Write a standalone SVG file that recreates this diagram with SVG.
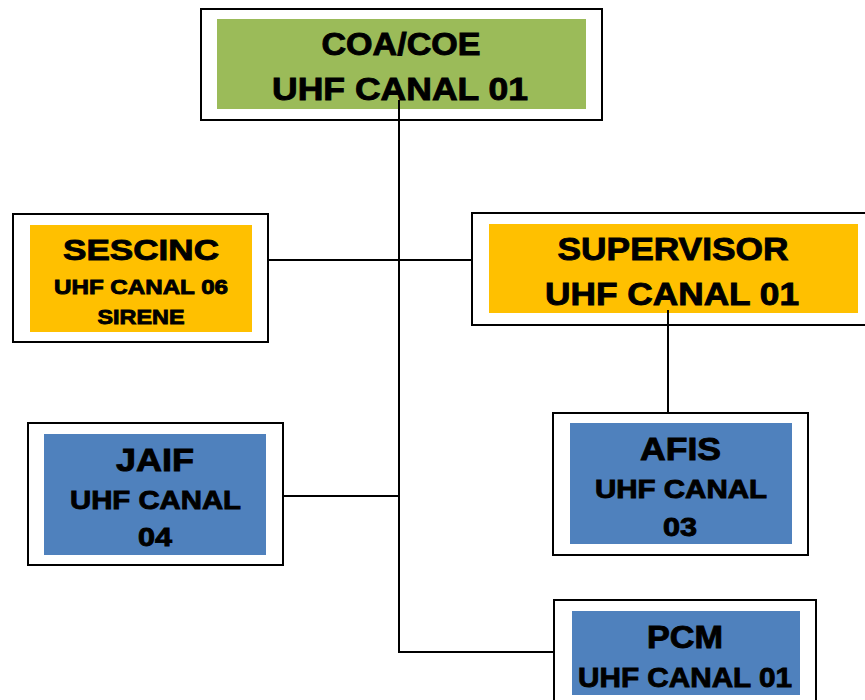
<svg xmlns="http://www.w3.org/2000/svg" width="865" height="700" viewBox="0 0 865 700">
<style>
.frame{fill:#fff;stroke:#000;stroke-width:2}
.green{fill:#9BBB59}
.orange{fill:#FFC000}
.blue{fill:#4F81BD}
text{font-family:"Liberation Sans",Arial,sans-serif;font-weight:bold;fill:#000;stroke:#000;stroke-width:0.9;text-anchor:middle}
.conn line{stroke:#000;stroke-width:2}
</style>
<rect width="865" height="700" fill="#fff"/>
<g id="coa">
<rect class="frame" x="201" y="9" width="401" height="111"/>
<rect class="green" x="217" y="19" width="369" height="90"/>
<text x="401" y="55" font-size="31" textLength="159" lengthAdjust="spacingAndGlyphs">COA/COE</text>
<text x="400" y="100" font-size="32" textLength="256" lengthAdjust="spacingAndGlyphs">UHF CANAL 01</text>
</g>
<g id="sescinc">
<rect class="frame" x="13" y="214" width="255" height="128"/>
<rect class="orange" x="30" y="225" width="222" height="107"/>
<text x="141" y="260" font-size="30" textLength="156" lengthAdjust="spacingAndGlyphs">SESCINC</text>
<text x="141" y="294" font-size="21" textLength="174" lengthAdjust="spacingAndGlyphs" stroke-width="0.6">UHF CANAL 06</text>
<text x="141" y="324" font-size="21" textLength="87" lengthAdjust="spacingAndGlyphs" stroke-width="0.6">SIRENE</text>
</g>
<g id="supervisor">
<rect class="frame" x="472" y="213" width="400" height="112"/>
<rect class="orange" x="489" y="224" width="369" height="89"/>
<text x="673" y="260" font-size="32" textLength="231" lengthAdjust="spacingAndGlyphs">SUPERVISOR</text>
<text x="672" y="305" font-size="32" textLength="254" lengthAdjust="spacingAndGlyphs">UHF CANAL 01</text>
</g>
<g id="jaif">
<rect class="frame" x="28" y="423" width="255" height="142"/>
<rect class="blue" x="44" y="434" width="222" height="121"/>
<text x="155" y="471" font-size="32" textLength="78" lengthAdjust="spacingAndGlyphs">JAIF</text>
<text x="155.5" y="509" font-size="26" textLength="171" lengthAdjust="spacingAndGlyphs">UHF CANAL</text>
<text x="155" y="546" font-size="26" textLength="34" lengthAdjust="spacingAndGlyphs">04</text>
</g>
<g id="afis">
<rect class="frame" x="553" y="413" width="255" height="142"/>
<rect class="blue" x="570" y="423" width="222" height="121"/>
<text x="680.5" y="460" font-size="32" textLength="81" lengthAdjust="spacingAndGlyphs">AFIS</text>
<text x="681" y="498" font-size="26" textLength="172" lengthAdjust="spacingAndGlyphs">UHF CANAL</text>
<text x="680" y="536" font-size="26" textLength="34" lengthAdjust="spacingAndGlyphs">03</text>
</g>
<g id="pcm">
<rect class="frame" x="554" y="600" width="262" height="110"/>
<rect class="blue" x="572" y="611" width="228" height="84"/>
<text x="685" y="648" font-size="32" textLength="76" lengthAdjust="spacingAndGlyphs">PCM</text>
<text x="685" y="687" font-size="28" textLength="214" lengthAdjust="spacingAndGlyphs">UHF CANAL 01</text>
</g>
<g id="connectors" class="conn">
<line x1="399" y1="100" x2="399" y2="653"/>
<line x1="268" y1="260" x2="472" y2="260"/>
<line x1="668" y1="310" x2="668" y2="413"/>
<line x1="283" y1="496" x2="399" y2="496"/>
<line x1="399" y1="652" x2="554" y2="652"/>
</g>
</svg>
